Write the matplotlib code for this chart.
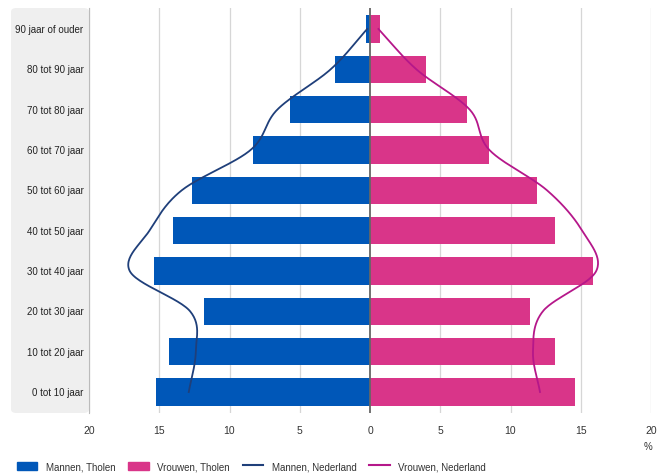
import matplotlib.pyplot as plt
import numpy as np
from matplotlib.patches import FancyBboxPatch
from matplotlib.lines import Line2D
from matplotlib.patches import Patch

plt.rcParams['font.family'] = ['Liberation Sans', 'DejaVu Sans']

# age groups, bottom to top
groups = ['0 tot 10 jaar', '10 tot 20 jaar', '20 tot 30 jaar', '30 tot 40 jaar',
          '40 tot 50 jaar', '50 tot 60 jaar', '60 tot 70 jaar', '70 tot 80 jaar',
          '80 tot 90 jaar', '90 jaar of ouder']
men_tholen = [15.2, 14.3, 11.8, 15.4, 14.0, 12.7, 8.3, 5.7, 2.5, 0.3]
women_tholen = [14.6, 13.2, 11.4, 15.9, 13.2, 11.9, 8.5, 6.9, 4.0, 0.7]
men_nl = [12.9, 12.4, 12.8, 17.1, 15.7, 13.4, 8.5, 6.6, 2.8, 0.2]
women_nl = [12.1, 11.6, 12.3, 16.1, 15.1, 12.6, 8.5, 7.1, 3.3, 0.6]
ticks = [-20, -15, -10, -5, 0, 5, 10, 15, 20]

blue = '#0057b8'
pink = '#d93589'
navy = '#1f3f7a'
magenta = '#b5178a'


def smooth(vals, n=30):
    # cubic hermite curve through the points (just for drawing the spline)
    y = np.arange(len(vals), dtype=float)
    v = np.array(vals, dtype=float)
    m = np.gradient(v, y)
    ys, xs = [], []
    for i in range(len(v) - 1):
        t = np.linspace(0, 1, n)
        h00 = 2*t**3 - 3*t**2 + 1
        h10 = t**3 - 2*t**2 + t
        h01 = -2*t**3 + 3*t**2
        h11 = t**3 - t**2
        xs.extend(h00*v[i] + h10*m[i] + h01*v[i+1] + h11*m[i+1])
        ys.extend(y[i] + t)
    return np.array(xs), np.array(ys)


fig = plt.figure(figsize=(6.68, 4.77), dpi=100)

# grey panel with the age labels (behind everything)
panel = FancyBboxPatch((11/668, 63/477), 78/668, 405/477,
                       boxstyle='round,pad=0,rounding_size=0.008',
                       transform=fig.transFigure, facecolor='#efefef',
                       edgecolor='none', zorder=-1)
fig.patches.append(panel)

ax = fig.add_axes([89/668, 63/477, 562/668, 405/477])
ax.set_facecolor('none')

pos = np.arange(len(groups))
ax.barh(pos, [-v for v in men_tholen], height=0.68, color=blue, zorder=3)
ax.barh(pos, women_tholen, height=0.68, color=pink, zorder=3)

x, y = smooth(men_nl)
ax.plot(-x, y, color=navy, lw=1.3, zorder=4)
x, y = smooth(women_nl)
ax.plot(x, y, color=magenta, lw=1.3, zorder=4)

ax.set_xlim(-20, 20)
ax.set_ylim(-0.52, 9.52)
for t in ticks:
    if t != 0:
        ax.axvline(t, color='#d6d6d6', lw=0.9, zorder=1)
ax.axvline(0, color='#666666', lw=1.3, zorder=5)
ax.set_xticks(ticks)
ax.set_xticklabels([str(abs(t)) for t in ticks], fontsize=7.5, color='#333333')
ax.tick_params(axis='x', length=0, pad=9)
ax.set_yticks([])
for s in ax.spines.values():
    s.set_visible(False)
ax.spines['left'].set_visible(True)
ax.spines['left'].set_color('#bbbbbb')

for p, g in zip(pos, groups):
    ax.text(-20.4, p, g, ha='right', va='center', fontsize=7, color='#222222')

fig.text(648/668, 30/477, '%', ha='center', va='center', fontsize=7, color='#333333')

handles = [Patch(color=blue), Patch(color=pink),
           Line2D([], [], color=navy, lw=1.5), Line2D([], [], color=magenta, lw=1.5)]
labels = ['Mannen, Tholen', 'Vrouwen, Tholen', 'Mannen, Nederland', 'Vrouwen, Nederland']
fig.legend(handles, labels, loc='lower left', bbox_to_anchor=(8/668, -0.008), ncol=4,
           frameon=False, fontsize=7, handlelength=2.1, handleheight=0.9,
           columnspacing=1.3, handletextpad=0.9, labelcolor='#333333')

fig.savefig('out.png', dpi=100)
